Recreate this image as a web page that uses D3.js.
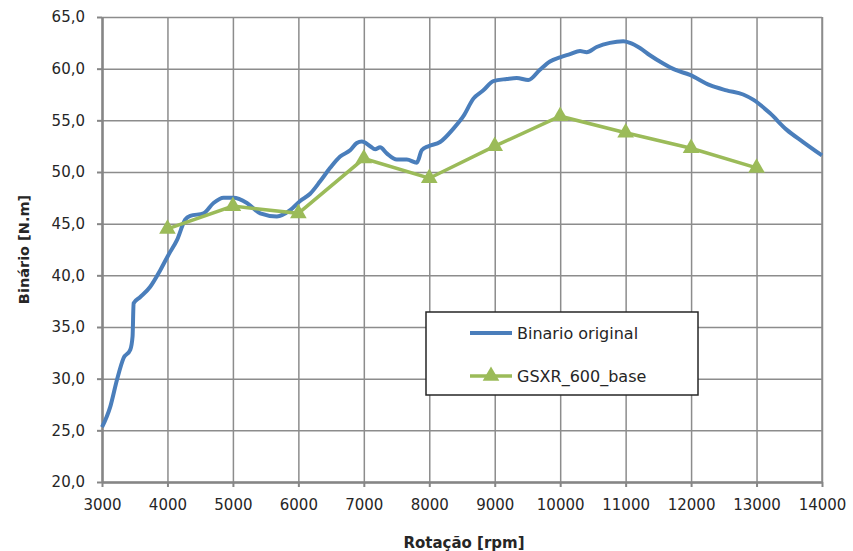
<!DOCTYPE html>
<html>
<head>
<meta charset="utf-8">
<script src="https://cdn.jsdelivr.net/npm/d3@7"></script>
<style>
    body { margin: 0; background: #ffffff; }
    text { font-family: "DejaVu Sans", sans-serif; fill: #262626; }
</style>
</head>
<body>
<svg id="drawing_region"></svg>
<script>
// Binario original (blue curve)
const rpm_original = [3000, 3127, 3229, 3330, 3432, 3467, 3483, 3585, 3737, 3890, 4017, 4145, 4272, 4348,
    4551, 4704, 4857, 5010, 5214, 5417, 5672, 5875, 6027, 6180, 6333, 6486, 6638, 6791, 6893, 6970,
    7097, 7173, 7249, 7351, 7504, 7656, 7809, 7885, 7987, 8165, 8369, 8521, 8674, 8826, 8979, 9183,
    9336, 9513, 9691, 9844, 9997, 10150, 10303, 10405, 10557, 10760, 10964, 11066, 11218, 11371,
    11574, 11753, 11982, 12287, 12542, 12796, 12948, 13203, 13458, 13712, 14000];
const torque_original = [25.3, 27.3, 29.9, 32.0, 32.8, 34.1, 37.3, 37.9, 38.9, 40.5, 42.0, 43.4, 45.4, 45.75,
    46.0, 47.0, 47.5, 47.5, 47.0, 46.0, 45.7, 46.3, 47.2, 47.9, 49.1, 50.4, 51.5, 52.1, 52.8, 52.95,
    52.5, 52.2, 52.4, 51.8, 51.2, 51.2, 50.9, 52.1, 52.5, 52.9, 54.2, 55.4, 57.1, 57.9, 58.8, 59.0,
    59.1, 58.9, 59.9, 60.7, 61.1, 61.4, 61.7, 61.6, 62.1, 62.5, 62.65, 62.5, 62.0, 61.3,
    60.5, 59.9, 59.4, 58.4, 57.9, 57.5, 57.0, 55.7, 54.1, 52.9, 51.6];

// GSXR_600_base (green, triangles)
const rpm_base = [4000, 5000, 6000, 7000, 8000, 9000, 10000, 11000, 12000, 13000];
const torque_base = [44.5, 46.7, 46.0, 51.3, 49.4, 52.5, 55.4, 53.8, 52.3, 50.4];

const x_ticks = [3000, 4000, 5000, 6000, 7000, 8000, 9000, 10000, 11000, 12000, 13000, 14000];
const y_ticks = [20, 25, 30, 35, 40, 45, 50, 55, 60, 65];

const series_names = ["Binario original", "GSXR_600_base"];
const series_colors = ["#4a7ebb", "#9bbb59"];

class TorqueChart {

    constructor( config ) {
        this.config = {
            parent: config.parent,
            width: config.width || 853,
            height: config.height || 551,
            margin: config.margin || {top:17, right:31, bottom:69, left:102}
        }
        this.init();
    }

    init() {
        let self = this;

        self.svg = d3.select( self.config.parent )
            .attr('width', self.config.width)
            .attr('height', self.config.height);

        self.chart = self.svg.append('g')
            .attr('transform', `translate(${self.config.margin.left}, ${self.config.margin.top})`);

        self.inner_width = self.config.width - self.config.margin.left - self.config.margin.right;
        self.inner_height = self.config.height - self.config.margin.top - self.config.margin.bottom;

        self.xscale = d3.scaleLinear()
            .domain([3000, 14000])
            .range([0, self.inner_width]);

        self.yscale = d3.scaleLinear()
            .domain([20, 65])
            .range([self.inner_height, 0]);

        // gridlines
        self.chart.append('g')
            .call( d3.axisBottom(self.xscale).tickValues(x_ticks).tickSize(self.inner_height).tickFormat('') )
            .call( g => g.select('.domain').remove() )
            .call( g => g.selectAll('line').attr('stroke', '#8c8c8c').attr('stroke-width', 1.5) );

        self.chart.append('g')
            .call( d3.axisLeft(self.yscale).tickValues(y_ticks).tickSize(-self.inner_width).tickFormat('') )
            .call( g => g.select('.domain').remove() )
            .call( g => g.selectAll('line').attr('stroke', '#8c8c8c').attr('stroke-width', 1.5) );

        // right border of plot area
        self.chart.append('line')
            .attr('x1', self.inner_width).attr('x2', self.inner_width)
            .attr('y1', 0).attr('y2', self.inner_height)
            .attr('stroke', '#8c8c8c').attr('stroke-width', 1.5);

        // axes
        self.xaxis = d3.axisBottom( self.xscale )
            .tickValues(x_ticks)
            .tickSize(5)
            .tickSizeOuter(0)
            .tickPadding(12)
            .tickFormat( d => String(d) );

        self.yaxis = d3.axisLeft( self.yscale )
            .tickValues(y_ticks)
            .tickSize(5)
            .tickSizeOuter(0)
            .tickPadding(12)
            .tickFormat( d => d3.format('.1f')(d).replace('.', ',') );

        self.xaxis_group = self.chart.append('g')
            .attr('transform', `translate(0, ${self.inner_height})`);

        self.yaxis_group = self.chart.append('g');

        self.chart.append("text")
            .attr("x", self.inner_width / 2 + 2)
            .attr("y", self.inner_height + 66)
            .attr("text-anchor", "middle")
            .style("font-size", "15px")
            .style("font-weight", "bold")
            .text("Rotação [rpm]");

        self.chart.append("text")
            .attr("transform", "rotate(-90)")
            .attr("x", - self.inner_height / 2)
            .attr("y", -73)
            .attr("text-anchor", "middle")
            .style("font-size", "14.5px")
            .style("font-weight", "bold")
            .text("Binário [N.m]");
    }

    update() {
        let self = this;

        self.original = rpm_original.map( (r, i) => ({rpm: r, value: torque_original[i]}) );
        self.base = rpm_base.map( (r, i) => ({rpm: r, value: torque_base[i]}) );

        self.line_smooth = d3.line()
            .x( d => self.xscale(d.rpm) )
            .y( d => self.yscale(d.value) )
            .curve( d3.curveMonotoneX );

        self.line_straight = d3.line()
            .x( d => self.xscale(d.rpm) )
            .y( d => self.yscale(d.value) );

        self.render();
    }

    render() {
        let self = this;

        self.xaxis_group.call( self.xaxis );
        self.yaxis_group.call( self.yaxis );

        [self.xaxis_group, self.yaxis_group].forEach( g => {
            g.select('.domain').attr('stroke', '#868686').attr('stroke-width', 2.5);
            g.selectAll('.tick line').attr('stroke', '#868686').attr('stroke-width', 2);
            g.selectAll('.tick text').style('font-size', '15px').style('font-family', '"DejaVu Sans", sans-serif').attr('fill', '#262626');
        });

        self.chart.append('path')
            .datum(self.original)
            .attr('fill', 'none')
            .attr('stroke', series_colors[0])
            .attr('stroke-width', 4)
            .attr('stroke-linejoin', 'round')
            .attr('d', self.line_smooth);

        self.chart.append('path')
            .datum(self.base)
            .attr('fill', 'none')
            .attr('stroke', series_colors[1])
            .attr('stroke-width', 3.5)
            .attr('d', self.line_straight);

        self.chart.selectAll('.marker').data(self.base)
            .join('path')
            .attr('class', 'marker')
            .attr('transform', d => `translate(${self.xscale(d.rpm)}, ${self.yscale(d.value)})`)
            .attr('d', d3.symbol().type(d3.symbolTriangle).size(120))
            .attr('fill', series_colors[1]);

        // legend
        const legend = self.svg.append('g')
            .attr('transform', 'translate(426, 312)');

        legend.append('rect')
            .attr('width', 272)
            .attr('height', 83)
            .attr('fill', '#ffffff')
            .attr('stroke', '#262626')
            .attr('stroke-width', 1.5);

        series_names.forEach( (name, i) => {
            const y = 21 + i * 43;
            legend.append('line')
                .attr('x1', 44).attr('x2', 86)
                .attr('y1', y).attr('y2', y)
                .attr('stroke', series_colors[i])
                .attr('stroke-width', i == 0 ? 4 : 3.5);
            if (i == 1) {
                legend.append('path')
                    .attr('transform', `translate(65, ${y})`)
                    .attr('d', d3.symbol().type(d3.symbolTriangle).size(120))
                    .attr('fill', series_colors[i]);
            }
            legend.append('text')
                .attr('x', 91)
                .attr('y', y)
                .attr('dy', '0.35em')
                .style('font-size', '16px')
                .text(name);
        });
    }
}

const config = {
    parent: '#drawing_region',
    width: 853,
    height: 551,
    margin: {top:17, right:31, bottom:69, left:102}
};

const chart = new TorqueChart( config );
chart.update();
</script>
</body>
</html>
